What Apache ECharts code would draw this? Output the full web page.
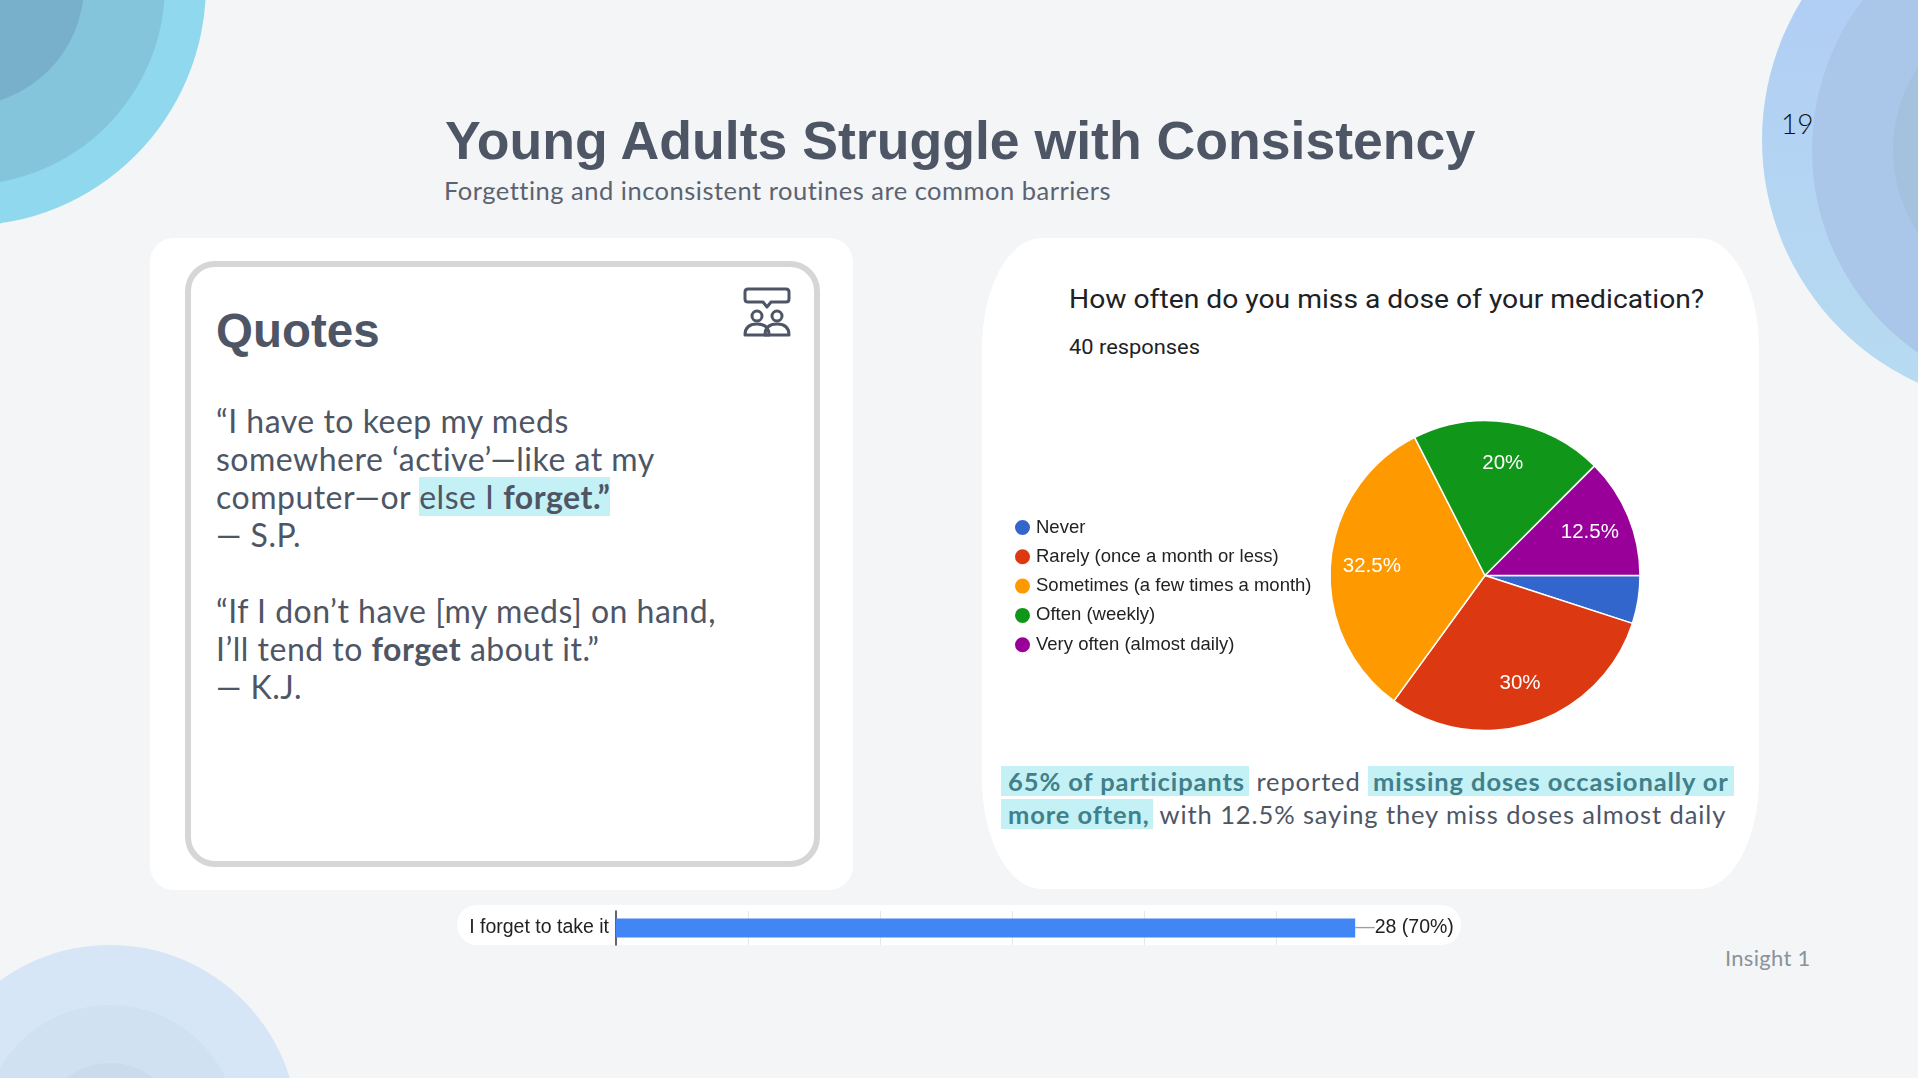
<!DOCTYPE html>
<html>
<head>
<meta charset="utf-8">
<script src="https://cdn.jsdelivr.net/npm/echarts@6/dist/echarts.min.js"></script>
<style>
  html, body { margin:0; padding:0; }
  body { width:1918px; height:1078px; background:#f4f5f7; position:relative; overflow:hidden; font-family: Lato, "Open Sans", sans-serif; }
  .abs { position:absolute; }
  .circ { position:absolute; border-radius:50%; }
  .card { position:absolute; background:#fff; }
  .hl { background:#c3f1f5; }
  .t { color:#41808a; font-weight:700; }
  #chart { position:absolute; left:0; top:0; width:1918px; height:1078px; }
</style>
</head>
<body>
<!-- decorative circles -->
<div class="circ" style="left:-276px;top:-256px;width:482px;height:482px;background:#8fd8ed;"></div>
<div class="circ" style="left:-235px;top:-215px;width:400px;height:400px;background:#84c5dc;"></div>
<div class="circ" style="left:-158px;top:-136px;width:242px;height:242px;background:#78afca;"></div>

<div class="circ" style="left:1762px;top:-127px;width:534px;height:534px;background:linear-gradient(180deg,#afcaf5,#b7dcf1);"></div>
<div class="circ" style="left:1812px;top:-97px;width:494px;height:494px;background:#aac7e9;"></div>
<div class="circ" style="left:1893px;top:0px;width:300px;height:300px;background:#a4c2de;"></div>

<div class="circ" style="left:-78px;top:945px;width:376px;height:376px;background:#d6e6f6;"></div>
<div class="circ" style="left:-18px;top:1005px;width:256px;height:256px;background:#d0e1f1;"></div>
<div class="circ" style="left:40px;top:1063px;width:140px;height:140px;background:#cadcec;"></div>

<!-- header -->
<div class="abs" style="left:445px;top:113px;font:bold 53.6px 'Liberation Sans',Arial,sans-serif;line-height:54px;color:#4e5666;white-space:nowrap;">Young Adults Struggle with Consistency</div>
<div class="abs" style="left:444px;top:178px;font-size:25.5px;line-height:25.5px;letter-spacing:0.5px;color:#5b6370;white-space:nowrap;">Forgetting and inconsistent routines are common barriers</div>
<div class="abs" style="left:1781px;top:109px;font-size:28px;line-height:28px;font-weight:300;color:#111;">19</div>

<!-- left card -->
<div class="card" style="left:150px;top:238px;width:703px;height:652px;border-radius:24px;"></div>
<div class="abs" style="left:185px;top:261px;width:635px;height:606px;box-sizing:border-box;border:6px solid #d6d6d6;border-radius:30px;background:#fff;"></div>
<div class="abs" style="left:216px;top:307px;font:bold 47.5px 'Liberation Sans',Arial,sans-serif;line-height:47.5px;color:#4e5666;">Quotes</div>
<svg class="abs" style="left:742px;top:287px;" width="50" height="50" viewBox="0 0 50 50" fill="none" stroke="#4e5666" stroke-width="3" stroke-linejoin="round" stroke-linecap="round">
  <path d="M6 2 H44 Q47 2 47 5 V12 Q47 15 44 15 H29 L25 20 L21 15 H6 Q3 15 3 12 V5 Q3 2 6 2 Z"/>
  <circle cx="15" cy="29" r="5"/>
  <circle cx="35" cy="29" r="5"/>
  <path d="M3 48 Q3 37 15 37 Q27 37 27 48 Z"/>
  <path d="M23 48 Q23 37 35 37 Q47 37 47 48 Z"/>
</svg>
<div class="abs" style="left:216px;top:402px;font-size:32px;line-height:38px;letter-spacing:0.5px;color:#4e5666;white-space:nowrap;">
“I have to keep my meds<br>
somewhere ‘active’—like at my<br>
computer—or <span class="hl">else I <b>forget.”</b></span><br>
— S.P.<br>
<br>
“If I don’t have [my meds] on hand,<br>
I’ll tend to <b>forget</b> about it.”<br>
— K.J.
</div>

<!-- right card -->
<div class="card" style="left:982px;top:238px;width:777px;height:651px;border-radius:60px / 110px;"></div>
<div class="abs" style="left:1069px;top:287px;font-family:Roboto,sans-serif;font-size:25px;line-height:25px;color:#202124;white-space:nowrap;transform:scaleX(1.13);transform-origin:0 0;">How often do you miss a dose of your medication?</div>
<div class="abs" style="left:1069px;top:338px;font-family:Roboto,sans-serif;font-size:19.5px;line-height:19.5px;color:#202124;white-space:nowrap;transform:scaleX(1.12);transform-origin:0 0;">40 responses</div>
<div class="abs" style="left:1001px;top:765px;font-size:25.5px;line-height:33px;letter-spacing:0.9px;color:#4e5666;white-space:nowrap;">
<span class="hl t" style="padding:0 4px 0 7px;">65% of participants</span> reported <span class="hl t" style="padding:0 5px 0 5px;">missing doses occasionally or</span><br>
<span class="hl t" style="padding:0 3px 0 7px;">more often,</span> with 12.5% saying they miss doses almost daily
</div>

<!-- bar pill -->
<div class="card" style="left:457px;top:905px;width:1004px;height:40px;border-radius:20px;"></div>
<div class="abs" style="left:1725px;top:947px;font-size:22px;line-height:22px;letter-spacing:0.3px;color:#8b929b;">Insight 1</div>

<div id="chart"></div>

<script>
// ---- data ----
const pieCategories = ['Never', 'Rarely (once a month or less)', 'Sometimes (a few times a month)', 'Often (weekly)', 'Very often (almost daily)'];
const pieCounts = [2, 12, 13, 8, 5];
const pieColors = ['#3366cc', '#dc3912', '#ff9900', '#109618', '#990099'];
const totalResponses = 40;

const barCategories = ['I forget to take it'];
const barCounts = [28];
const barTicks = [0, 5, 10, 15, 20, 25, 30];

const chart = echarts.init(document.getElementById('chart'), null, { renderer: 'canvas' });

const pieData = pieCategories.map((n, i) => ({ name: n, value: pieCounts[i], itemStyle: { color: pieColors[i] } }));
const pieLabelData = pieCategories.map((n, i) => ({
  name: n, value: pieCounts[i],
  label: { show: pieCounts[i] / totalResponses >= 0.1 }
}));

const fmtPct = v => {
  const p = v / totalResponses * 100;
  return (Math.round(p * 10) / 10) + '%';
};

chart.setOption({
  backgroundColor: 'transparent',
  animation: false,
  color: pieColors,
  legend: {
    orient: 'vertical',
    left: 1008,
    top: 513,
    icon: 'circle',
    itemWidth: 17,
    itemHeight: 17,
    itemGap: 10.3,
    data: pieCategories,
    textStyle: { fontFamily: 'Liberation Sans, Arial, sans-serif', fontSize: 18.5, color: '#222' },
    selectedMode: false
  },
  grid: { left: 616, top: 911, width: 792, height: 34 },
  xAxis: {
    type: 'value', min: barTicks[0], max: barTicks[barTicks.length - 1], interval: barTicks[1] - barTicks[0],
    axisLine: { show: false }, axisTick: { show: false }, axisLabel: { show: false },
    splitLine: { show: true, showMinLine: false, showMaxLine: false, lineStyle: { color: '#e6e6e6', width: 1 } }
  },
  yAxis: {
    type: 'category', data: barCategories,
    axisLine: { show: true, lineStyle: { color: '#333', width: 1.5 } },
    axisTick: { show: false },
    axisLabel: { margin: 7, fontFamily: 'Liberation Sans, Arial, sans-serif', fontSize: 19.5, color: '#222' }
  },
  series: [
    {
      type: 'pie', center: [1485, 575.5], radius: [0, 155], startAngle: 0, clockwise: true,
      data: pieData, label: { show: false }, labelLine: { show: false },
      itemStyle: { borderColor: '#fff', borderWidth: 1.5 }, silent: true
    },
    {
      type: 'pie', center: [1485, 575.5], radius: [66, 155], startAngle: 0, clockwise: true,
      data: pieLabelData, silent: true, legendHoverLink: false,
      itemStyle: { color: 'rgba(0,0,0,0)', borderWidth: 0 },
      label: {
        position: 'inside', color: '#fff', fontFamily: 'Liberation Sans, Arial, sans-serif', fontSize: 20.5,
        formatter: p => fmtPct(p.value)
      },
      labelLine: { show: false }
    },
    {
      type: 'bar', data: barCounts, barWidth: 19, itemStyle: { color: '#4285f4' },
      label: {
        show: true, position: 'right', distance: 0,
        formatter: p => '{l|—}{t|' + p.value + ' (' + fmtPct(p.value) + ')}',
        rich: {
          l: { color: '#9e9e9e', fontSize: 19.5, fontFamily: 'Liberation Sans, Arial, sans-serif' },
          t: { color: '#222', fontSize: 19.5, fontFamily: 'Liberation Sans, Arial, sans-serif' }
        }
      },
      silent: true
    }
  ]
});
</script>
</body>
</html>
